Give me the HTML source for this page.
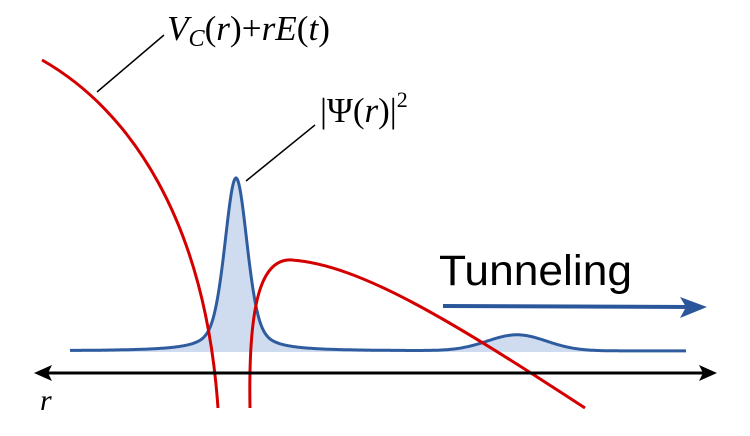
<!DOCTYPE html>
<html><head><meta charset="utf-8"><style>html,body{margin:0;padding:0;background:#fff}svg{display:block}</style></head>
<body>
<svg id="s" width="750" height="436" viewBox="0 0 750 436" xmlns="http://www.w3.org/2000/svg">
<path id="fill" fill="#cfdcef" stroke="none"/>
<path id="curve" fill="none" stroke="#2e5c9e" stroke-width="3"/>
<path d="M42,60 C130,110 205,220 218,408" fill="none" stroke="#d40000" stroke-width="3"/>
<path d="M250,408 C248,300 262,258 292,260 C360,265 450,320 585,408" fill="none" stroke="#d40000" stroke-width="3"/>
<line x1="44" y1="373" x2="706" y2="373" stroke="#000" stroke-width="3"/>
<polygon points="34,373 52,365 48,373 52,381" fill="#000"/>
<polygon points="717,373 699,365 703,373 699,381" fill="#000"/>
<line x1="443" y1="306" x2="690" y2="307" stroke="#2b579a" stroke-width="4"/>
<polygon points="707,307 680,297 686,307 680,318" fill="#2b579a"/>
<line x1="97" y1="92" x2="164" y2="35" stroke="#000" stroke-width="1.5"/>
<line x1="246" y1="181" x2="315" y2="125" stroke="#000" stroke-width="1.5"/>
<text x="167" y="40" font-family="Liberation Serif, serif" font-style="italic" font-size="35" textLength="163" lengthAdjust="spacingAndGlyphs">V<tspan font-size="24" dy="6">C</tspan><tspan dy="-6" font-style="normal">(</tspan>r<tspan font-style="normal">)+</tspan>rE<tspan font-style="normal">(</tspan>t<tspan font-style="normal">)</tspan></text>
<text x="320" y="122" font-family="Liberation Serif, serif" font-size="35">|Ψ(<tspan font-style="italic">r</tspan>)|<tspan font-size="22" dy="-15">2</tspan></text>
<text x="40" y="410" font-family="Liberation Serif, serif" font-style="italic" font-size="30">r</text>
<text x="439" y="285" font-family="Liberation Sans, sans-serif" font-size="43" textLength="193" lengthAdjust="spacingAndGlyphs">Tunneling</text>
</svg>
<script>
var d="",f="M70,352 ";
for(var x=70;x<=686;x+=1){
 var u=x-236;
 var p=0.6*Math.exp(-u*u/(2*11*11))+0.4/(1+Math.pow(u/15,2));
 var y=351-173*p-16*Math.exp(-Math.pow((x-517)/42,2));
 d+=(x==70?"M":"L")+x+","+y.toFixed(1)+" ";
 f+="L"+x+","+y.toFixed(1)+" ";
}
f+="L686,352 Z";
document.getElementById("curve").setAttribute("d",d);
document.getElementById("fill").setAttribute("d",f);
</script>
</body></html>
